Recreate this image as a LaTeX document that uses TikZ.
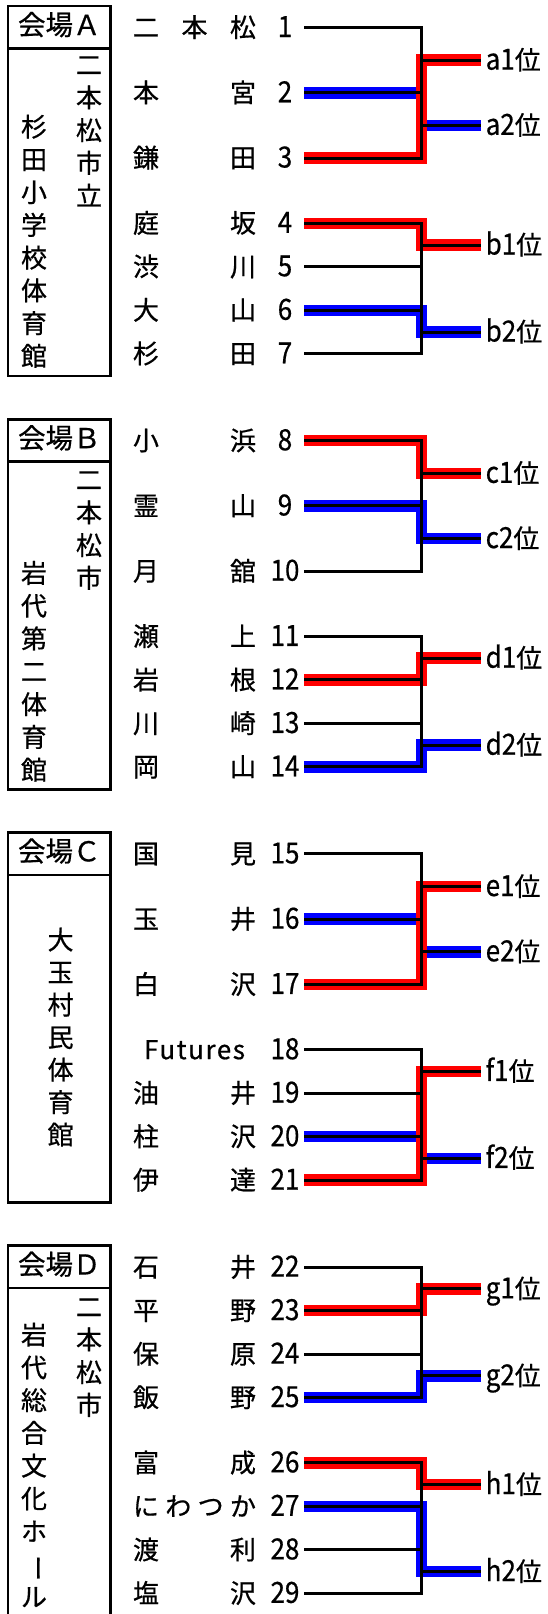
\documentclass[tikz,border=0pt]{standalone}
\usepackage{fontspec}
\setmainfont{Noto Sans CJK JP}[FakeBold=0.6]
\usepackage{graphicx}

\begin{document}
\begin{tikzpicture}[x=1pt,y=-1pt,
    txt/.style={inner sep=0pt,text height=22.5pt,text depth=3.5pt,font=\fontsize{26}{26}\selectfont},
    ttl/.style={txt,font=\fontsize{27.5}{27.5}\selectfont},
    res/.style={txt,anchor=west,inner xsep=4.5pt},
    bk/.style={black,line width=3pt},
    winner/.style={red,line width=11.5pt},
    runnerup/.style={blue,line width=11.5pt},
    hallbox/.style={line width=2.7pt}]

  \useasboundingbox (0,0) rectangle (548,1614);

  % venue boxes
  \foreach \k/\v/\h in {0/Ａ/370,1/Ｂ/370,2/Ｃ/370,3/Ｄ/420}{
    \pgfmathsetmacro\t{6+413.2*\k}
    \draw[hallbox] (8,\t) rectangle (110.7,\t+\h);
    \draw[hallbox] (8,\t+42.5) -- (110.7,\t+42.5);
    \node[ttl] (hall\k) at (59.3,\t+19.5) {会場\v};
  }

  % venue names, one char per line
  \foreach \x/\y/\dy/\txt in {
      89/65/32.75/{二,本,松,市,立},
      34/127/32.75/{杉,田,小,学,校,体,育,館},
      89/480/32.75/{二,本,松,市},
      34/573.3/32.8/{岩,代,第,二,体,育,館},
      60.6/940/32.5/{大,玉,村,民,体,育,館},
      89/1307/32.75/{二,本,松,市},
      34/1335/32.75/{岩,代,総,合,文,化,ホ,\rotatebox[origin=c]{-90}{ー},ル}}{
    \foreach \c [count=\i] in \txt
      \node[txt] at (\x,\y+\dy*\i-\dy) {\c};
  }

  % teams and numbers
  \foreach \n/\k/\s/\nm in {
      1/0/0/二 本 松, 2/0/1.5/本 宮, 3/0/3/鎌 田,
      4/0/4.5/庭 坂, 5/0/5.5/渋 川, 6/0/6.5/大 山, 7/0/7.5/杉 田,
      8/1/0/小 浜, 9/1/1.5/霊 山, 10/1/3/月 舘,
      11/1/4.5/瀬 上, 12/1/5.5/岩 根, 13/1/6.5/川 崎, 14/1/7.5/岡 山,
      15/2/0/国 見, 16/2/1.5/玉 井, 17/2/3/白 沢,
      18/2/4.5/{\hfil\addfontfeature{LetterSpace=6}Futures\hfil},
      19/2/5.5/油 井, 20/2/6.5/柱 沢, 21/2/7.5/伊 達,
      22/3/0/石 井, 23/3/1/平 野, 24/3/2/保 原, 25/3/3/飯 野,
      26/3/4.5/富 成, 27/3/5.5/に わ つ か, 28/3/6.5/渡 利, 29/3/7.5/塩 沢}{
    \pgfmathsetmacro\y{27.5+413.2*\k+43.5*\s}
    \node[txt] (t\n) at (194.5,\y) {\makebox[123pt][s]{\nm}};
    \node[txt] (n\n) at (285,\y) {\scalebox{1}[1.12]{\n}};
    \coordinate (p\n) at (304,\y);
    \coordinate (q\n) at (421.7,\y);
  }

  % places
  \foreach \r/\k/\s in {a1/0/0.75, a2/0/2.25, b1/0/5, b2/0/7,
      c1/1/0.75, c2/1/2.25, d1/1/5, d2/1/7,
      e1/2/0.75, e2/2/2.25, f1/2/5, f2/2/7,
      g1/3/0.5, g2/3/2.5, h1/3/5, h2/3/7}{
    \pgfmathsetmacro\y{27.5+413.2*\k+43.5*\s}
    \node[res] (\r) at (481,\y) {\scalebox{1}[1.12]{\r}位};
  }

  % 2nd place then 1st place on top
  \foreach \n/\r in {2/a2,6/b2,9/c2,14/d2,16/e2,20/f2,25/g2,27/h2}
    \draw[runnerup] (p\n) -- (q\n) |- (\r.west);
  \foreach \n/\r in {3/a1,4/b1,8/c1,12/d1,17/e1,21/f1,23/g1,26/h1}
    \draw[winner] (p\n) -- (q\n) |- (\r.west);

  % the black brackets
  \foreach \n in {1,...,29}
    \draw[bk] (p\n) -- ([xshift=1.5pt]q\n);
  \foreach \a/\b in {1/3,4/7,8/10,11/14,15/17,18/21,22/25,26/29}
    \draw[bk,line cap=rect] (q\a) -- (q\b);
  \foreach \r in {a1,a2,b1,b2,c1,c2,d1,d2,e1,e2,f1,f2,g1,g2,h1,h2}
    \draw[bk] (q1 |- \r.west) -- (\r.west);
\end{tikzpicture}
\end{document}
